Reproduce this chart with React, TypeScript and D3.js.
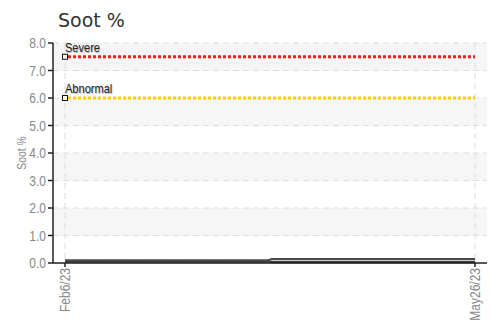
import React from "react";
import * as d3 from "d3";

const yTicks = [0, 1, 2, 3, 4, 5, 6, 7, 8];
const xTickLabels = ["Feb6/23", "May26/23"];
const xTickDates = [new Date(2023, 1, 6), new Date(2023, 4, 26)];
const seriesDates = [new Date(2023, 1, 6), new Date(2023, 3, 1), new Date(2023, 3, 2), new Date(2023, 4, 26)];
const seriesA = [0.1, 0.1, 0.14, 0.14];
const seriesB = [0.05, 0.05, 0.03, 0.03];
const limitNames = ["Severe", "Abnormal"];
const limitValues = [7.5, 6.0];
const limitColors = ["#ff1a1a", "#ffcc00"];

const W = 491, H = 321;
const left = 53, right = 487, top = 43, bottom = 263;
const xStart = 65, xEnd = 475;
const cond = "'Liberation Sans', Arial, sans-serif";

export default function App() {
  const y = d3.scaleLinear().domain([0, 8]).range([bottom, top]);
  const x = d3.scaleTime().domain([xTickDates[0], xTickDates[1]]).range([xStart, xEnd]);
  const line = d3.line<number>().x((_, i) => x(seriesDates[i])).y((d) => y(d));
  const bands = yTicks.slice(0, -1).filter((t) => t % 2 === 1);
  return (
    <svg width={W} height={H} style={{ position: "absolute", left: 0, top: 0, background: "#fff" }}>
      <text x={58} y={27} fontFamily="'DejaVu Sans', sans-serif" fontSize={19} fill="#333">Soot %</text>
      {bands.map((t) => (
        <rect key={t} x={left} y={y(t + 1)} width={right - left} height={y(t) - y(t + 1)} fill="#f6f6f6" />
      ))}
      {yTicks.map((t) => (
        <line key={"g" + t} x1={left} x2={right} y1={y(t)} y2={y(t)} stroke="#ddd" strokeWidth={1} strokeDasharray="6,4" />
      ))}
      {xTickDates.map((d, i) => (
        <line key={"v" + i} x1={x(d)} x2={x(d)} y1={top} y2={bottom} stroke="#ddd" strokeWidth={1} strokeDasharray="6,4" />
      ))}
      {limitValues.map((v, i) => (
        <g key={"l" + i}>
          <line x1={x(xTickDates[0]) + 3} x2={x(xTickDates[1])} y1={y(v)} y2={y(v)} stroke={limitColors[i]} strokeWidth={3} strokeDasharray="3,2" />
          <rect x={x(xTickDates[0]) - 2.5} y={y(v) - 2.5} width={5} height={5} fill="#fff" stroke="#111" strokeWidth={1} />
          <text transform={`translate(${x(xTickDates[0]) + 0.8},${y(v) - 5 + 0.8}) scale(0.85,1)`} fontFamily={cond} fontSize={13} fill="#bbb">{limitNames[i]}</text>
          <text transform={`translate(${x(xTickDates[0])},${y(v) - 5}) scale(0.85,1)`} fontFamily={cond} fontSize={13} fill="#222">{limitNames[i]}</text>
        </g>
      ))}
      <path d={line(seriesB) || ""} fill="none" stroke="#3a3a3a" strokeWidth={2.2} />
      <path d={line(seriesA) || ""} fill="none" stroke="#4a4a4a" strokeWidth={2.2} />
      <line x1={left} x2={left} y1={top} y2={bottom} stroke="#222" strokeWidth={1.5} />
      <line x1={left} x2={right} y1={bottom} y2={bottom} stroke="#222" strokeWidth={1.5} />
      {yTicks.map((t) => (
        <g key={"t" + t}>
          <line x1={left - 5} x2={left} y1={y(t)} y2={y(t)} stroke="#222" strokeWidth={1.5} />
          <text transform={`translate(${left - 7},${y(t)}) scale(0.8,1)`} dy="0.36em" textAnchor="end" fontFamily={cond} fontSize={15} fill="#888">{t.toFixed(1)}</text>
        </g>
      ))}
      {xTickDates.map((d, i) => (
        <g key={"xt" + i}>
          <line x1={x(d)} x2={x(d)} y1={bottom} y2={bottom + 4} stroke="#222" strokeWidth={1.5} />
          <text transform={`translate(${x(d) + 5},${bottom + 5}) rotate(-90) scale(0.8,1)`} textAnchor="end" fontFamily={cond} fontSize={15} fill="#888">{xTickLabels[i]}</text>
        </g>
      ))}
      <text transform={`translate(26,${(top + bottom) / 2}) rotate(-90) scale(0.8,1)`} textAnchor="middle" fontFamily={cond} fontSize={13} fill="#888">Soot %</text>
    </svg>
  );
}
